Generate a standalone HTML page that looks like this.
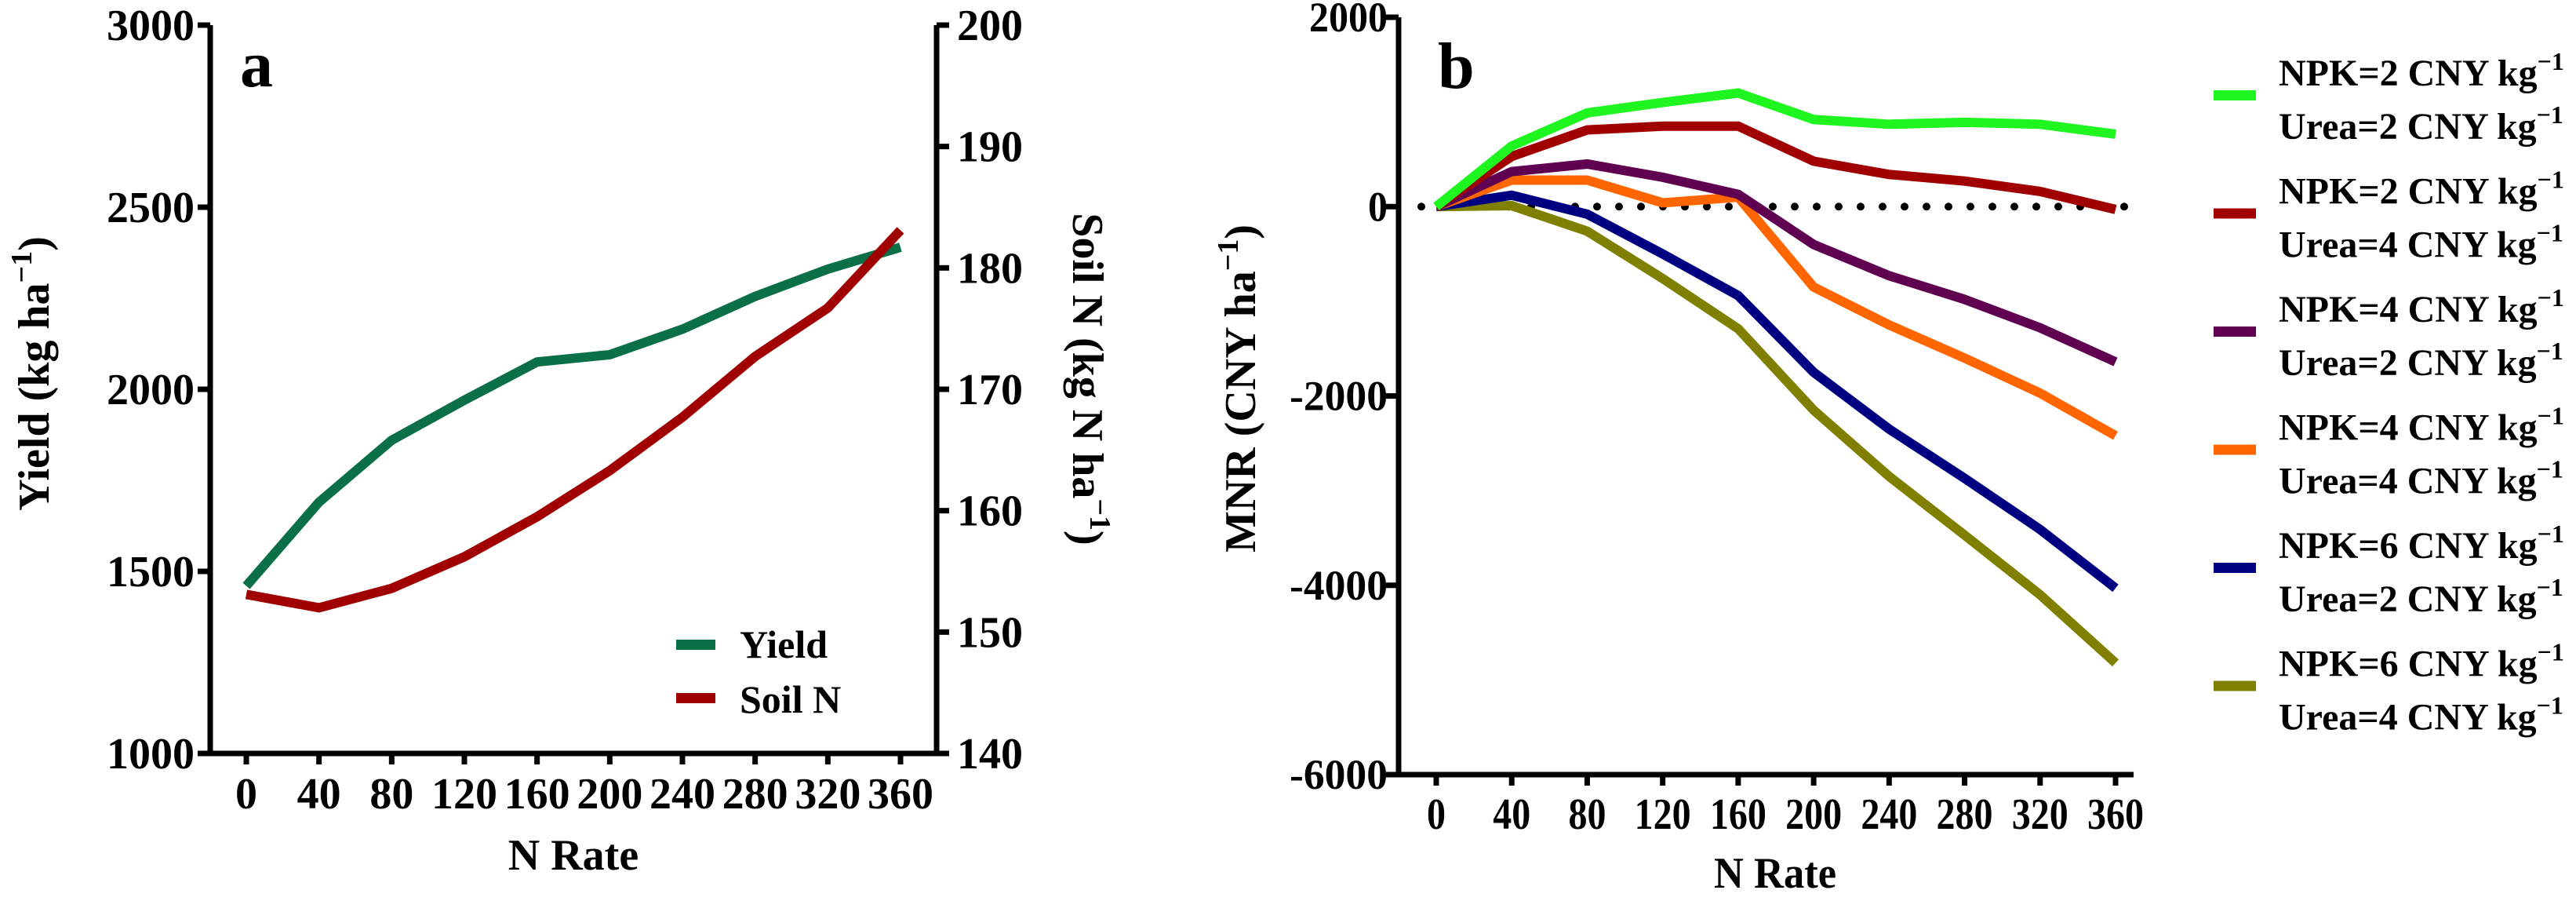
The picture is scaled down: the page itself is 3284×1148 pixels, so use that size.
<!DOCTYPE html>
<html><head><meta charset="utf-8"><style>
html,body{margin:0;padding:0;background:#fff;}
svg{display:block;font-family:"Liberation Serif",serif;font-weight:bold;}
</style></head><body>
<svg id="chart" width="3284" height="1148" viewBox="0 0 3284 1148" xmlns="http://www.w3.org/2000/svg">
<g id="pa"></g>
<g id="pb"></g>
</svg>
<script>
const nRates = [0,40,80,120,160,200,240,280,320,360];
const yieldVals = [1460,1690,1860,1970,2075,2095,2165,2255,2330,2390];
const soilNVals = [153.1,152.0,153.6,156.2,159.5,163.3,167.7,172.7,176.7,183.1];
const yieldTicks = [1000,1500,2000,2500,3000];
const soilTicks = [140,150,160,170,180,190,200];
const mnrTicks = [2000,0,-2000,-4000,-6000];
const seriesNames = [["NPK=2","Urea=2"],["NPK=2","Urea=4"],["NPK=4","Urea=2"],["NPK=4","Urea=4"],["NPK=6","Urea=2"],["NPK=6","Urea=4"]];
const mnrGreen = [0,640,990,1100,1200,920,870,890,870,765];
const mnrRed = [0,530,810,850,850,480,340,270,160,-30];
const mnrPurple = [0,370,450,310,130,-400,-730,-980,-1280,-1640];
const mnrOrange = [0,280,280,40,100,-850,-1250,-1600,-1970,-2420];
const mnrBlue = [0,120,-80,-500,-940,-1750,-2350,-2870,-3410,-4030];
const mnrOlive = [0,10,-260,-760,-1290,-2150,-2850,-3470,-4100,-4820];

const NS="http://www.w3.org/2000/svg";
function mk(parent,tag,attrs,text){const e=document.createElementNS(NS,tag);for(const k in attrs)e.setAttribute(k,attrs[k]);if(text!==undefined)e.textContent=text;parent.appendChild(e);return e;}

// ---------- Panel a ----------
const pa=document.getElementById('pa');
const axA={l:268,r:1194,t:32,b:960,x0:314,x1:1148};
const xA=v=>axA.x0+(v-0)/360*(axA.x1-axA.x0);
const yA=v=>axA.b-(v-1000)/2000*(axA.b-axA.t);
const ySoil=v=>axA.b-(v-140)/60*(axA.b-axA.t);
let e;
e=mk(pa,'path',{d:`M${axA.l} ${axA.t}V${axA.b}H${axA.r}V${axA.t}`,fill:'none',stroke:'#000','stroke-width':7});

yieldTicks.forEach(v=>{const y=yA(v);
 e=mk(pa,'line',{x1:axA.l-16,x2:axA.l,y1:y,y2:y,stroke:'#000','stroke-width':7});
 e=mk(pa,'text',{x:axA.l-20,y:y+19,'font-size':56,'text-anchor':'end'},v);});
soilTicks.forEach(v=>{const y=ySoil(v);
 e=mk(pa,'line',{x1:axA.r,x2:axA.r+16,y1:y,y2:y,stroke:'#000','stroke-width':7});
 e=mk(pa,'text',{x:axA.r+26,y:y+19,'font-size':56},v);});
nRates.forEach(v=>{const x=xA(v);
 e=mk(pa,'line',{x1:x,x2:x,y1:axA.b,y2:axA.b+14,stroke:'#000','stroke-width':7});
 e=mk(pa,'text',{x:x,y:1030,'font-size':56,'text-anchor':'middle'},v);});
e=mk(pa,'text',{x:731,y:1108,'font-size':56,'text-anchor':'middle'},'N Rate');
e=mk(pa,'text',{x:0,y:0,'font-size':56,'text-anchor':'middle',transform:'translate(62,476) rotate(-90)'});

e.innerHTML='Yield (kg ha<tspan font-size="38" dy="-22">−1</tspan><tspan dy="22">)</tspan>';
e=mk(pa,'text',{x:0,y:0,'font-size':56,'text-anchor':'middle',transform:'translate(1368,483) rotate(90)'});

e.innerHTML='Soil N (kg N ha<tspan font-size="38" dy="-22">−1</tspan><tspan dy="22">)</tspan>';
e=mk(pa,'text',{x:306,y:110,'font-size':84},'a');
e=mk(pa,'polyline',{points:nRates.map((n,i)=>xA(n)+','+yA(yieldVals[i])).join(' '),fill:'none',stroke:'#0b7048','stroke-width':12,'stroke-linejoin':'miter'});

e=mk(pa,'polyline',{points:nRates.map((n,i)=>xA(n)+','+ySoil(soilNVals[i])).join(' '),fill:'none',stroke:'#a00000','stroke-width':12});

e=mk(pa,'rect',{x:862,y:815,width:50,height:13,fill:'#0b7048'});
e=mk(pa,'text',{x:943,y:838,'font-size':50},'Yield');
e=mk(pa,'rect',{x:862,y:883,width:50,height:13,fill:'#a00000'});
e=mk(pa,'text',{x:943,y:908,'font-size':50},'Soil N');

// ---------- Panel b ----------
const pb=document.getElementById('pb');
const axB={l:1783,r:2720,t:22,b:987,x0:1831,x1:2697};
const xB=v=>axB.x0+v/360*(axB.x1-axB.x0);
const yB=v=>axB.b-(v+6000)/8000*(axB.b-axB.t);
e=mk(pb,'path',{d:`M${axB.l} ${axB.t}V${axB.b}H${axB.r}`,fill:'none',stroke:'#000','stroke-width':7});

mnrTicks.forEach(v=>{const y=yB(v);
 e=mk(pb,'line',{x1:axB.l-16,x2:axB.l,y1:y,y2:y,stroke:'#000','stroke-width':7});
 e=mk(pb,'text',{x:axB.l-14,y:y+18,'font-size':54,'text-anchor':'end',textLength:String(v).length*25,lengthAdjust:'spacingAndGlyphs'},v);});
nRates.forEach(v=>{const x=xB(v);
 e=mk(pb,'line',{x1:x,x2:x,y1:axB.b,y2:axB.b+14,stroke:'#000','stroke-width':7});
 e=mk(pb,'text',{x:x,y:1056,'font-size':56,'text-anchor':'middle',textLength:String(v).length*24,lengthAdjust:'spacingAndGlyphs'},v);});
e=mk(pb,'text',{x:2263,y:1131,'font-size':56,'text-anchor':'middle',textLength:156,lengthAdjust:'spacingAndGlyphs'},'N Rate');
e=mk(pb,'text',{x:0,y:0,'font-size':56,'text-anchor':'middle',transform:'translate(1600,495) rotate(-90)'});

e.innerHTML='MNR (CNY  ha<tspan font-size="38" dy="-22">−1</tspan><tspan dy="22">)</tspan>';
e=mk(pb,'text',{x:1833,y:112,'font-size':84},'b');
e=mk(pb,'line',{x1:1812,x2:2712,y1:yB(0),y2:yB(0),stroke:'#000','stroke-width':10,'stroke-linecap':'round','stroke-dasharray':'0 28'});

const series=[mnrGreen,mnrRed,mnrPurple,mnrOrange,mnrBlue,mnrOlive];
const colors=['#1ff51f','#a00000','#600050','#ff6600','#000080','#808000'];
const sNames=['mnr-npk2-urea2','mnr-npk2-urea4','mnr-npk4-urea2','mnr-npk4-urea4','mnr-npk6-urea2','mnr-npk6-urea4'];
for(let s=series.length-1;s>=0;s--){
 e=mk(pb,'polyline',{points:nRates.map((n,i)=>xB(n)+','+yB(series[s][i])).join(' '),fill:'none',stroke:colors[s],'stroke-width':12});
 
 
}
seriesNames.forEach((nm,i)=>{const cy=121.5+i*150.5;
 e=mk(pb,'rect',{x:2822,y:cy-6.5,width:54,height:13,fill:colors[i]});
 
 
 e=mk(pb,'text',{x:2905,y:cy-12.5,'font-size':48});
 
 
 e.innerHTML=nm[0]+' CNY kg<tspan font-size="32" dy="-20">−1</tspan>';
 e=mk(pb,'text',{x:2905,y:cy+55.5,'font-size':48});
 
 
 e.innerHTML=nm[1]+' CNY kg<tspan font-size="32" dy="-20">−1</tspan>';
});
</script>
</body></html>
